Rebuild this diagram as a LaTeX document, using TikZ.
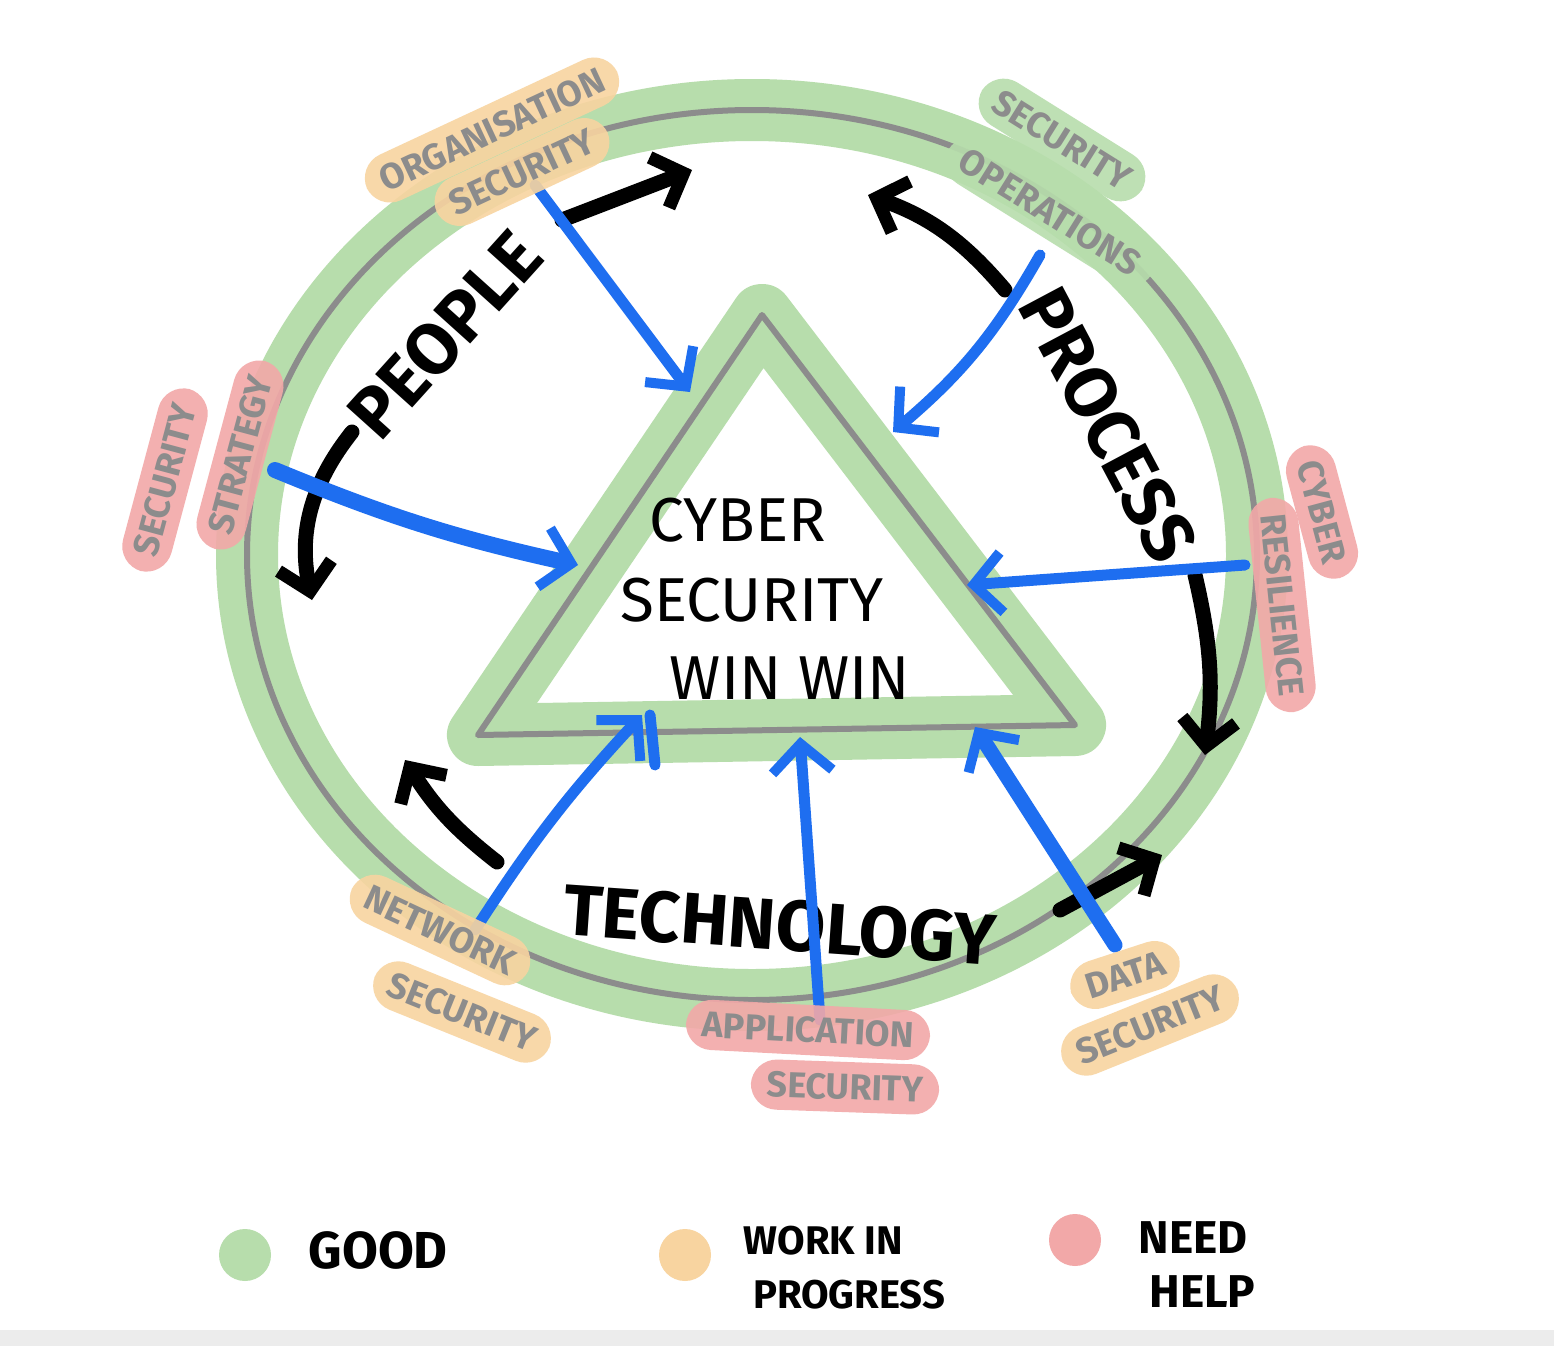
\documentclass[tikz,border=0pt]{standalone}
\usepackage{fontspec}
\setmainfont{Fira Sans}
\usetikzlibrary{arrows.meta}
\definecolor{hgreen}{RGB}{183,221,172}
\definecolor{horange}{RGB}{248,212,160}
\definecolor{hred}{RGB}{242,168,168}
\definecolor{lgray}{RGB}{140,140,140}
\definecolor{sblue}{RGB}{30,110,240}
\tikzset{
  halo/.style={line width=62pt,hgreen,line cap=round,line join=round},
  core/.style={line width=6pt,lgray,line cap=round,line join=round},
  barrow/.style={line width=15pt,black,-{Straight Barb[length=26pt,width=54pt,line width=13pt]},line cap=round},
  blarrow/.style={line width=11pt,sblue,-{Straight Barb[length=28pt,width=60pt,line width=10pt]},line cap=round},
  lab/.style={text=lgray,font=\fontsize{36}{38}\selectfont\bfseries,rounded corners=26pt,inner xsep=16pt,inner ysep=12pt,fill opacity=0.9,text opacity=1},
  big/.style={font=\fontsize{62}{64}\selectfont},
  word/.style={font=\fontsize{72}{74}\selectfont\bfseries},
  leg/.style={font=\fontsize{52}{56}\selectfont\bfseries,align=left},
}
\begin{document}
\begin{tikzpicture}[x=1pt,y=-1pt]
\useasboundingbox (0,0) rectangle (1554,1346);
\fill[white] (0,0) rectangle (1554,1346);
\fill[gray!15] (0,1330) rectangle (1554,1346);
% circle
\draw[halo] (752,555) ellipse [x radius=505, y radius=445];
\draw[core] (752,555) ellipse [x radius=505, y radius=445];
% triangle
\coordinate (A) at (762,315);
\coordinate (B) at (478,735);
\coordinate (C) at (1075,725);
\draw[halo] (A) -- (B) -- (C) -- cycle;
\draw[core] (A) -- (B) -- (C) -- cycle;
% centre text
\node[big] (t1) at (738,520) {CYBER};
\node[big] (t2) at (752,600) {SECURITY};
\node[big] (t3) at (790,678) {WIN WIN};
% words
\node[word,rotate=48] (people) at (445,335) {PEOPLE};
\node[word,rotate=-62] (process) at (1108,425) {PROCESS};
\node[word,rotate=-4] (tech) at (780,925) {TECHNOLOGY};
% black arrows
\coordinate (pa1) at (562,220); \coordinate (pa2) at (692,170);
\draw[barrow] (pa1) -- (pa2);
\coordinate (pb1) at (1005,290); \coordinate (pb2) at (868,195);
\draw[barrow] (pb1) to[bend right=15] (pb2);
\coordinate (pc1) at (1195,575); \coordinate (pc2) at (1205,755);
\draw[barrow] (pc1) to[bend left=10] (pc2);
\coordinate (pd1) at (1060,910); \coordinate (pd2) at (1162,855);
\draw[barrow] (pd1) -- (pd2);
\coordinate (pe1) at (497,862); \coordinate (pe2) at (405,760);
\draw[barrow] (pe1) to[bend left=10] (pe2);
\coordinate (pf1) at (352,432); \coordinate (pf2) at (312,600);
\draw[barrow] (pf1) to[bend right=25] (pf2);
% blue arrows
\coordinate (b1s) at (535,185); \coordinate (b1e) at (690,392);
\coordinate (b2s) at (1040,255); \coordinate (b2e) at (893,432);
\coordinate (b3s) at (275,470); \coordinate (b3e) at (578,565);
\coordinate (b4s) at (1245,565); \coordinate (b4e) at (967,585);
\coordinate (b5s) at (475,930); \coordinate (b5e) at (642,715);
\coordinate (b6s) at (820,1020); \coordinate (b6e) at (800,737);
\coordinate (b7s) at (1115,945); \coordinate (b7e) at (975,727);
\coordinate (b8s) at (655,765); \coordinate (b8e) at (650,715);
\draw[blarrow] (b1s) -- (b1e);
\draw[blarrow] (b2s) to[bend left=10] (b2e);
\draw[blarrow,line width=16pt] (b3s) to[bend right=5] (b3e);
\draw[blarrow] (b4s) -- (b4e);
\draw[blarrow] (b5s) to[bend left=5] (b5e);
\draw[blarrow] (b6s) -- (b6e);
\draw[blarrow,line width=15pt] (b7s) -- (b7e);
\draw[sblue,line width=11pt,line cap=round] (b8s) -- (b8e);
% labels
\node[lab,fill=horange,rotate=25] (o1) at (492,130) {ORGANISATION};
\node[lab,fill=horange,rotate=25] (o2) at (522,172) {SECURITY};
\node[lab,fill=hgreen,rotate=-32] (s1) at (1062,140) {SECURITY};
\node[lab,fill=hgreen,rotate=-32] (s2) at (1050,212) {OPERATIONS};
\node[lab,fill=hred,rotate=75] (st1) at (165,480) {SECURITY};
\node[lab,fill=hred,rotate=75] (st2) at (240,455) {STRATEGY};
\node[lab,fill=hred,rotate=-75] (c1) at (1322,512) {CYBER};
\node[lab,fill=hred,rotate=-84] (c2) at (1282,605) {RESILIENCE};
\node[lab,fill=horange,rotate=-25] (n1) at (440,930) {NETWORK};
\node[lab,fill=horange,rotate=-22] (n2) at (462,1012) {SECURITY};
\node[lab,fill=hred,rotate=-3] (a1) at (808,1030) {APPLICATION};
\node[lab,fill=hred,rotate=-2] (a2) at (845,1087) {SECURITY};
\node[lab,fill=horange,rotate=18] (d1) at (1125,975) {DATA};
\node[lab,fill=horange,rotate=22] (d2) at (1150,1025) {SECURITY};
% legend
\fill[hgreen] (245,1255) circle (26);
\fill[horange] (685,1255) circle (26);
\fill[hred] (1075,1240) circle (26);
\node[leg,anchor=west] (g) at (305,1250) {GOOD};
\node[leg,anchor=west,font=\fontsize{40}{54}\selectfont\bfseries] (w) at (740,1268) {WORK IN\\\ PROGRESS};
\node[leg,anchor=west,font=\fontsize{46}{54}\selectfont\bfseries] (nh) at (1135,1265) {NEED\\\ HELP};
\end{tikzpicture}
\end{document}
